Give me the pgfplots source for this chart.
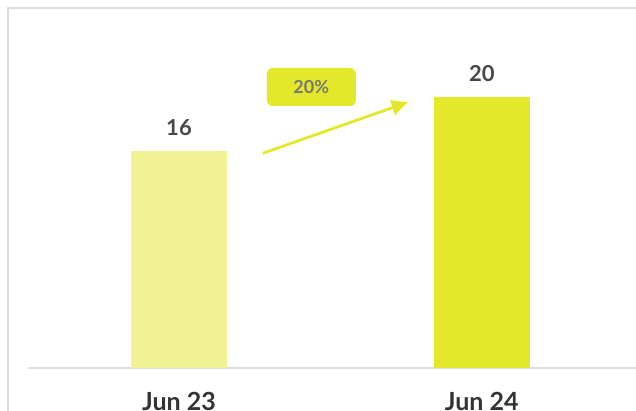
\documentclass[border=0pt]{standalone}
\usepackage{pgfplots}
\pgfplotsset{compat=1.18}
\usetikzlibrary{arrows.meta}
\usepackage{fontspec}
\setmainfont{Lato}
\definecolor{barA}{HTML}{F0F294}
\definecolor{barB}{HTML}{E3E82A}
\definecolor{frameG}{HTML}{DDDDDD}
\definecolor{txtD}{HTML}{333333}
\definecolor{txtG}{HTML}{777777}
\begin{document}
\begin{tikzpicture}[x=0.5pt,y=0.5pt]
\useasboundingbox (0,0) rectangle (636,411);
\draw[frameG, line width=1pt] (8,-20) -- (8,403) -- (660,403);
\begin{axis}[
  at={(89.5pt,21.5pt)}, anchor=origin,
  scale only axis, width=304pt, height=169pt,
  xmin=-0.5, xmax=1.508, ymin=0, ymax=24.94,
  ybar, bar width=48pt, bar shift=0pt,
  axis x line=bottom, axis y line=none,
  x axis line style={draw=frameG, line width=0.8pt, -},
  xtick={0,1}, xticklabels={Jun 23, Jun 24},
  major tick length=0pt,
  xticklabel style={font=\bfseries\fontsize{12.5}{14}\selectfont, text=txtD, anchor=north, inner sep=0pt, yshift=-12pt},
  ytick=\empty,
  /pgf/number format/assume math mode=true,
  nodes near coords,
  nodes near coords style={font=\bfseries\fontsize{11}{12}\selectfont, text=txtD!90, anchor=south, inner sep=0pt, yshift=7.5pt},
  clip=false,
]
\addplot[fill=barA, draw=none] coordinates {(0,16)};
\addplot[fill=barB, draw=none] coordinates {(1,20)};
\end{axis}
\node[fill=barB, rounded corners=3pt, minimum width=44.5pt, minimum height=19pt, inner sep=0pt, text=txtG, font=\bfseries\fontsize{9}{10}\selectfont] at (311.3,324) {20\%};
\draw[barB, line width=1.4pt, -{Triangle[length=8pt,width=7.5pt]}] (262.7,257.7) -- (407.7,308.7);
\end{tikzpicture}
\end{document}
